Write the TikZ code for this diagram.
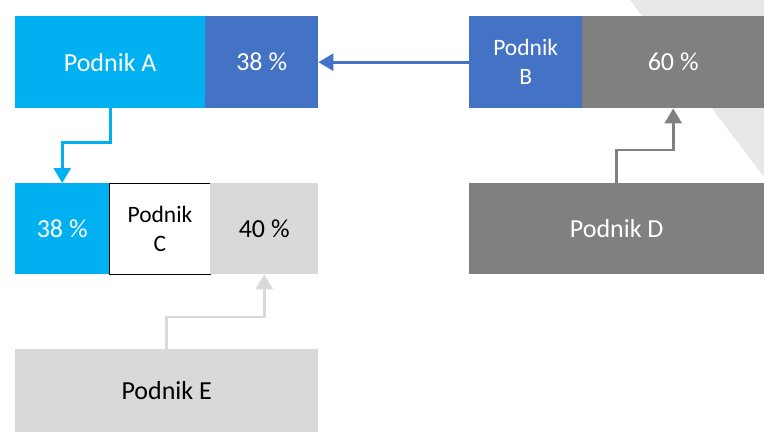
\documentclass[tikz,border=0pt]{standalone}
\usepackage{fontspec}
\setmainfont{Carlito}
\usetikzlibrary{arrows.meta}
\definecolor{cyanA}{HTML}{00B0F0}
\definecolor{blueB}{HTML}{4472C4}
\definecolor{grayD}{HTML}{808080}
\definecolor{grayE}{HTML}{D9D9D9}
\definecolor{bgtri}{HTML}{E8E8E8}
\tikzset{
  cell/.style={rectangle, inner sep=0pt, anchor=north west, align=center,
    font=\fontsize{26}{29}\selectfont},
  small/.style={font=\fontsize{23.5}{29}\selectfont},
  conn/.style={line width=2.6pt, -{Triangle[width=17pt,length=15pt]}},
}
\begin{document}
\begin{tikzpicture}[x=1pt,y=-1pt]
\useasboundingbox (0,0) rectangle (764,432);
\fill[bgtri] (630,0) -- (764,0) -- (764,177) -- cycle;
% row 1
\node[cell, fill=cyanA, text=white, minimum width=190pt, minimum height=92pt] (A) at (15,16) {Podnik A};
\node[cell, fill=blueB, text=white, minimum width=113pt, minimum height=92pt] (A38) at (205,16) {38 \%};
\node[cell, small, fill=blueB, text=white, minimum width=113pt, minimum height=92pt] (B) at (469,16) {Podnik\\B};
\node[cell, fill=grayD, text=white, minimum width=182pt, minimum height=92pt] (B60) at (582,16) {60 \%};
% row 2
\node[cell, fill=cyanA, text=white, minimum width=94pt, minimum height=91pt] (C38) at (15,183) {38 \%};
\node[cell, small, fill=white, draw=black, line width=1pt, minimum width=101pt, minimum height=91pt] (C) at (109,183) {Podnik\\C};
\node[cell, fill=grayE, text=black, minimum width=108pt, minimum height=91pt] (C40) at (210,183) {40 \%};
\node[cell, fill=grayD, text=white, minimum width=295pt, minimum height=91pt] (D) at (469,183) {Podnik D};
% row 3
\node[cell, fill=grayE, text=black, minimum width=303pt, minimum height=83pt] (E) at (15,349) {Podnik E};
% connectors
\draw[conn, draw=blueB] (B.west) -- (A38.east);
\draw[conn, draw=cyanA] (A.south) -- ++(0,34) -| (C38.north);
\draw[conn, draw=grayD] (D.north) -- ++(0,-33) -| (B60.south);
\draw[conn, draw=grayE] (E.north) -- ++(0,-32) -| (C40.south);
\end{tikzpicture}
\end{document}
